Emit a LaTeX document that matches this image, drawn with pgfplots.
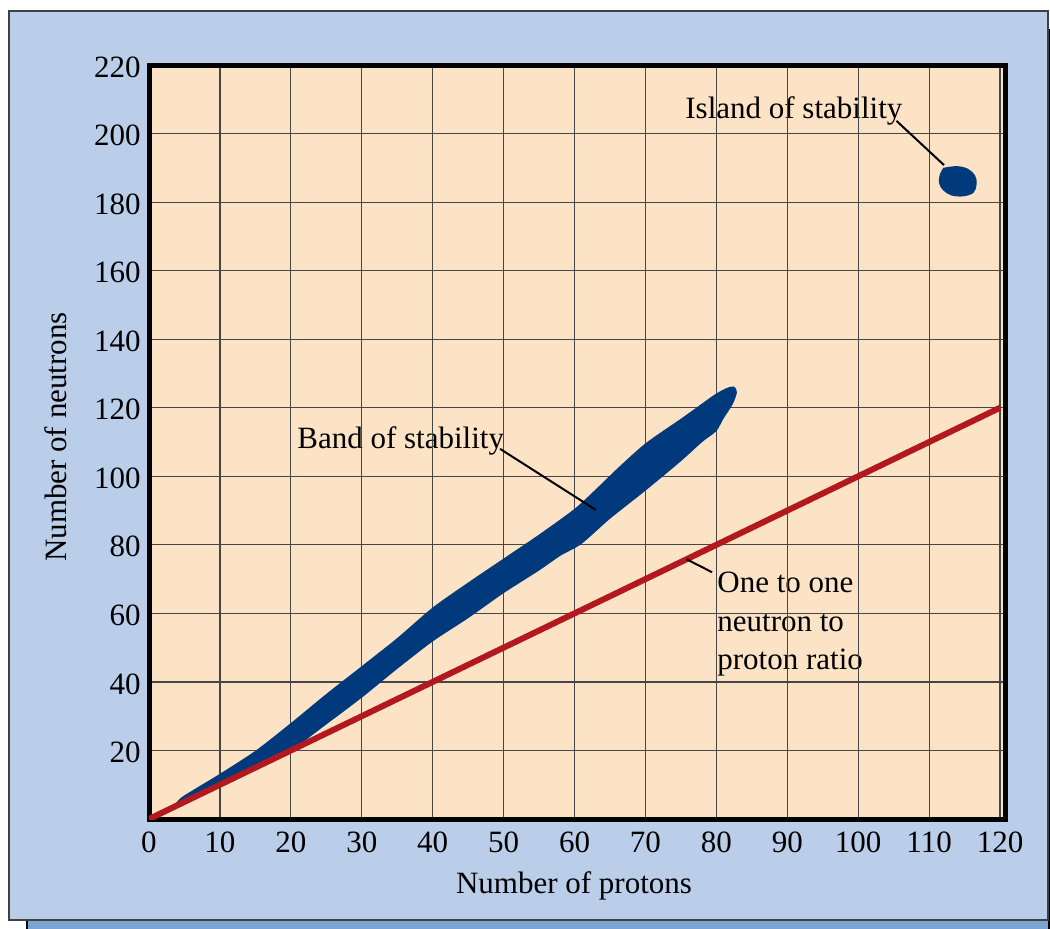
\documentclass[border=0pt]{standalone}
\usepackage{fontspec}
\setmainfont{Liberation Serif}
\usepackage{pgfplots}
\pgfplotsset{compat=1.18}

\definecolor{panel}{RGB}{186,205,233}
\definecolor{shadow}{RGB}{123,164,214}
\definecolor{peach}{RGB}{252,227,198}
\definecolor{bandblue}{RGB}{0,58,125}
\definecolor{ratiored}{RGB}{178,24,30}
\definecolor{gridgray}{RGB}{70,70,70}
\newcommand{\lbl}{\fontsize{15.5}{19}\selectfont}

\begin{document}
\begin{tikzpicture}
\useasboundingbox (0,0) rectangle (525pt,-464pt);
% frame, panel and plot background (pixel coordinates, y down)
\begin{scope}[x=0.5pt,y=-0.5pt]
  \fill[white] (0,0) rectangle (1050,928);
  \filldraw[fill=shadow, draw=black, line width=0.8pt] (27,30) rectangle (1049,950);
  \filldraw[fill=panel, draw=black!75, line width=0.8pt] (9,11) rectangle (1048,920);
  \fill[peach] (149,65) rectangle (1005,819);
  % annotations sit under the grid
  \node[anchor=base west, inner sep=0pt, font=\lbl] at (297,448) {Band of stability};
  \node[anchor=base west, inner sep=0pt, font=\lbl] at (685,118) {Island of stability};
  \node[anchor=base west, inner sep=0pt, font=\lbl] at (717,592) {One to one};
  \node[anchor=base west, inner sep=0pt, font=\lbl] at (717,631) {neutron to};
  \node[anchor=base west, inner sep=0pt, font=\lbl] at (717,669) {proton ratio};
\end{scope}

\begin{axis}[
    at={(74.5pt,-409.5pt)}, anchor=south west,
    scale only axis, width=428pt, height=377pt,
    xmin=0, xmax=120.7, ymin=0, ymax=220,
    xtick={0,10,...,120},
    ytick={20,40,...,220},
    grid=major,
    major grid style={gridgray, line width=0.6pt},
    major tick length=0pt,
    axis line style={line width=2.5pt, line join=miter},
    /pgf/number format/assume math mode=true,
    tick label style={font=\lbl},
    xticklabel style={yshift=-2.8pt},
    yticklabel style={xshift=-0.6pt, yshift=-1pt},
]
% band of stability
\addplot[fill=bandblue, draw=none, smooth, tension=0.45] coordinates {
  (3.2,3.2) (4.5,6.2) (6.5,8.8) (10,13.2) (15,19.9) (20,28.0) (25,36.5)
  (30,44.6) (35,52.8) (40,61.7) (45,69.0) (50,76.0) (55,83.0) (60,90.5)
  (63,96.2) (66,102.2) (70,109.6) (75,116.8) (77.7,120.8) (79.8,123.9)
  (81.5,125.8) (82.5,126.2) (82.9,124.5) (82.3,121) (81,116.8) (80,113.2)
  (78,110.0) (75,104.4) (70,95.8) (65,87.6) (61,80.3) (58,76.8) (55,72.5)
  (50,65.9) (45,58.6) (40,51.8) (35,43.8) (30,35.4) (25,27.6) (20,20.0)
  (15,15.0) (10,10.0) (6,6.0) (3.2,3.2)
};
% island of stability
\addplot[fill=bandblue, draw=none, smooth, tension=0.6] coordinates {
  (112.0,190.0) (113.9,190.5) (115.5,189.7) (116.5,187.7) (116.7,185.3)
  (116.3,182.8) (114.9,181.7) (113.2,181.9) (112.0,183.4) (111.4,185.5)
  (111.5,188.0) (112.0,190.0)
};
% one to one line
\addplot[ratiored, line width=3pt] coordinates {(0,0) (120,120)};
% leader lines
\draw[line width=1pt] (axis cs:49.5,108.0) -- (axis cs:63.0,90.2);
\draw[line width=1pt] (axis cs:105.4,203.7) -- (axis cs:112.1,190.8);
\draw[line width=1pt] (axis cs:75.8,75.8) -- (axis cs:79.4,72.0);
\end{axis}

\begin{scope}[x=0.5pt,y=-0.5pt]
  \node[anchor=base, inner sep=0pt, font=\lbl] at (574,893) {Number of protons};
  \node[anchor=base, rotate=90, inner sep=0pt, font=\lbl] at (66.7,437) {Number of neutrons};
\end{scope}
\end{tikzpicture}
\end{document}
